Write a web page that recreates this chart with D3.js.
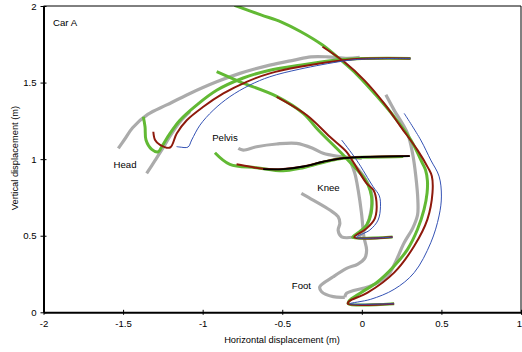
<!DOCTYPE html>
<html>
<head>
<meta charset="utf-8">
<script src="https://cdn.jsdelivr.net/npm/d3@7"></script>
<style>
  html, body { margin: 0; padding: 0; background: #fff; }
  svg { display: block; font-family: "Liberation Sans", Arial, sans-serif; }
</style>
</head>
<body>
<svg id="chart" width="522" height="352"></svg>
<script>
// Axis ticks
const xTicks = [-2, -1.5, -1, -0.5, 0, 0.5, 1];
const yTicks = [0, 0.5, 1, 1.5, 2];

// Trajectories [horizontal, vertical] in metres
const headGray = [[-0.013,1.664],[-0.090,1.658],[-0.215,1.668],[-0.320,1.668],[-0.425,1.647],[-0.578,1.614],[-0.766,1.560],[-0.912,1.505],[-1.080,1.429],[-1.226,1.354],[-1.345,1.292],[-1.440,1.205],[-1.490,1.130],[-1.530,1.070]];
const headGrayLow = [[-1.352,0.907],[-1.300,0.990],[-1.257,1.060],[-1.205,1.150],[-1.143,1.242],[-1.080,1.310]];
const headGreen = [[0.306,1.658],[0.0,1.657],[-0.119,1.650],[-0.389,1.614],[-0.578,1.581],[-0.745,1.530],[-0.912,1.450],[-1.038,1.353],[-1.143,1.254],[-1.205,1.168],[-1.257,1.081],[-1.279,1.048],[-1.320,1.064],[-1.356,1.125],[-1.362,1.211],[-1.373,1.277]];
const headRed = [[0.306,1.658],[0.0,1.656],[-0.119,1.646],[-0.389,1.603],[-0.578,1.560],[-0.724,1.505],[-0.870,1.429],[-0.996,1.342],[-1.100,1.254],[-1.163,1.168],[-1.205,1.076],[-1.268,1.093],[-1.299,1.125],[-1.310,1.179]];
const headBlue = [[0.306,1.658],[0.0,1.653],[-0.119,1.640],[-0.389,1.588],[-0.578,1.538],[-0.703,1.484],[-0.829,1.408],[-0.934,1.319],[-1.017,1.222],[-1.069,1.125],[-1.092,1.079],[-1.143,1.079],[-1.164,1.082]];

const pelvisGray = [[-0.776,1.070],[-0.745,1.059],[-0.661,1.081],[-0.535,1.099],[-0.410,1.103],[-0.306,1.070],[-0.243,1.038],[-0.159,1.020],[-0.075,1.012],[0.0,1.005]];
const pelvisGreen = [[0.26,1.018],[0.0,1.012],[-0.075,1.008],[-0.159,0.999],[-0.264,0.973],[-0.389,0.940],[-0.494,0.924],[-0.661,0.944],[-0.829,0.966],[-0.923,1.042]];
const pelvisRed = [[0.301,1.020],[0.0,1.014],[-0.138,1.004],[-0.243,0.983],[-0.368,0.952],[-0.494,0.936],[-0.620,0.937],[-0.700,0.950],[-0.787,0.966]];
const pelvisBlack = [[0.301,1.020],[0.0,1.014],[-0.138,1.004],[-0.243,0.983],[-0.368,0.952],[-0.494,0.935],[-0.620,0.935]];

const kneeGray = [[-0.380,0.777],[-0.306,0.733],[-0.201,0.668],[-0.149,0.624],[-0.138,0.581],[-0.149,0.537],[-0.127,0.493],[-0.055,0.490]];
const kneeGrayArc = [[-0.075,0.994],[0.019,0.876],[0.063,0.765],[0.056,0.654],[0.025,0.550],[-0.025,0.485]];
const shinGray = [[-0.075,0.994],[-0.044,0.907],[-0.023,0.798],[-0.002,0.646],[0.013,0.493],[0.030,0.407],[0.019,0.354],[-0.025,0.315],[-0.096,0.287],[-0.180,0.232],[-0.264,0.167],[-0.253,0.134],[-0.180,0.102],[-0.107,0.098]];
const kneeGreen = [[0.193,0.492],[-0.058,0.490],[-0.015,0.525],[0.030,0.570],[0.058,0.646],[0.061,0.755],[0.040,0.830],[0.008,0.885],[-0.117,1.027],[-0.274,1.190],[-0.368,1.299],[-0.535,1.410],[-0.766,1.505],[-0.912,1.571]];
const kneeRed = [[0.193,0.492],[-0.048,0.490],[0.030,0.548],[0.082,0.614],[0.092,0.722],[0.072,0.800],[0.030,0.842],[-0.055,0.983],[-0.096,1.048],[-0.201,1.146],[-0.347,1.288],[-0.535,1.407]];
const kneeBlue = [[0.193,0.491],[-0.035,0.489],[0.050,0.537],[0.102,0.602],[0.117,0.689],[0.110,0.760],[0.071,0.820],[-0.033,0.994],[-0.127,1.125]];

const footGray = [[0.151,1.420],[0.203,1.320],[0.287,1.168],[0.320,1.030],[0.339,0.890],[0.352,0.733],[0.350,0.635],[0.320,0.550],[0.266,0.454],[0.161,0.237],[0.056,0.172],[0.008,0.157],[-0.096,0.124],[-0.107,0.098]];
const footGreen = [[0.203,0.056],[-0.085,0.056],[-0.080,0.074],[-0.006,0.128],[0.098,0.198],[0.203,0.302],[0.287,0.411],[0.350,0.542],[0.391,0.672],[0.410,0.780],[0.412,0.860],[0.400,0.930],[0.381,0.973],[0.308,1.125],[0.203,1.277],[0.098,1.407],[-0.027,1.549],[-0.132,1.647],[-0.247,1.745],[-0.383,1.832],[-0.508,1.897],[-0.634,1.942],[-0.800,2.005]];
const footRed = [[0.203,0.056],[-0.088,0.056],[-0.080,0.072],[0.036,0.128],[0.203,0.259],[0.329,0.433],[0.412,0.607],[0.444,0.781],[0.440,0.889],[0.418,0.940],[0.350,1.059],[0.245,1.211],[0.140,1.364],[0.015,1.516],[-0.111,1.636],[-0.247,1.734]];
const footBlue = [[0.203,0.056],[-0.075,0.056],[0.056,0.085],[0.203,0.150],[0.329,0.259],[0.433,0.454],[0.485,0.629],[0.500,0.759],[0.485,0.889],[0.433,0.994],[0.370,1.125],[0.266,1.299]];

const bodyLabels = [
  { text: "Car A", at: [-1.94, 1.87] },
  { text: "Head", at: [-1.56, 0.94] },
  { text: "Pelvis", at: [-0.94, 1.12] },
  { text: "Knee", at: [-0.28, 0.79] },
  { text: "Foot", at: [-0.44, 0.155] }
];

const svg = d3.select("#chart");
const x = d3.scaleLinear().domain([-2, 1]).range([43.5, 521]);
const y = d3.scaleLinear().domain([0, 2]).range([312.3, 6]);

svg.append("defs").append("clipPath").attr("id", "plot")
  .append("rect")
  .attr("x", x(-2)).attr("y", y(2))
  .attr("width", x(1) - x(-2)).attr("height", y(0) - y(2));

const line = d3.line()
  .x(d => x(d[0])).y(d => y(d[1]))
  .curve(d3.curveCatmullRom.alpha(0.5));

const styles = {
  gray:  { stroke: "#ababab", width: 3.2 },
  green: { stroke: "#62b934", width: 3.0 },
  red:   { stroke: "#8e1a0c", width: 2.0 },
  blue:  { stroke: "#3452b4", width: 1.0 },
  black: { stroke: "#000000", width: 1.8 }
};

const layers = [
  ["gray", [headGray, headGrayLow, pelvisGray, kneeGray, kneeGrayArc, shinGray, footGray]],
  ["green", [headGreen, pelvisGreen, kneeGreen, footGreen]],
  ["red", [headRed, pelvisRed, kneeRed, footRed]],
  ["blue", [headBlue, kneeBlue, footBlue]],
  ["black", [pelvisBlack]]
];

const plot = svg.append("g").attr("clip-path", "url(#plot)");
layers.forEach(([key, series]) => {
  plot.append("g").selectAll("path").data(series).join("path")
    .attr("d", line)
    .attr("fill", "none")
    .attr("stroke", styles[key].stroke)
    .attr("stroke-width", styles[key].width)
    .attr("stroke-linejoin", "round")
    .attr("stroke-linecap", "butt");
});

// Frame: thin top and right edges
svg.append("path")
  .attr("d", `M${x(-2)},${y(2)}H${x(1)}V${y(0)}`)
  .attr("fill", "none").attr("stroke", "#000").attr("stroke-width", 1);

const fmt = d => String(d);

const gx = svg.append("g").attr("transform", `translate(0,${y(0)})`)
  .call(d3.axisBottom(x).tickValues(xTicks).tickFormat(fmt).tickSizeOuter(0).tickSizeInner(2.5).tickPadding(5));
gx.select(".domain").attr("stroke-width", 2);
gx.selectAll(".tick line").attr("y1", -2.5).attr("stroke-width", 1);
gx.selectAll(".tick text").attr("font-size", 9.6).attr("font-family", "Liberation Sans, Arial, sans-serif").attr("fill", "#000");
// keep the last label inside the page edge
gx.selectAll(".tick text").filter(d => d === 1).attr("text-anchor", "end").attr("dx", "0.5");

const gy = svg.append("g").attr("transform", `translate(${x(-2)},0)`)
  .call(d3.axisLeft(y).tickValues(yTicks).tickFormat(fmt).tickSizeOuter(0).tickSizeInner(3).tickPadding(4));
gy.select(".domain").attr("stroke-width", 2);
gy.selectAll(".tick line").attr("x1", 3).attr("stroke-width", 1);
gy.selectAll(".tick text").attr("font-size", 9.6).attr("font-family", "Liberation Sans, Arial, sans-serif").attr("fill", "#000");

svg.append("text")
  .attr("x", 282).attr("y", 343)
  .attr("text-anchor", "middle").attr("font-size", 9.3)
  .text("Horizontal displacement (m)");

svg.append("text")
  .attr("transform", "translate(18,158) rotate(-90)")
  .attr("text-anchor", "middle").attr("font-size", 9.3)
  .text("Vertical displacement (m)");

svg.append("g").selectAll("text").data(bodyLabels).join("text")
  .attr("x", d => x(d.at[0])).attr("y", d => y(d.at[1]))
  .attr("font-size", 9.6)
  .text(d => d.text);
</script>
</body>
</html>
